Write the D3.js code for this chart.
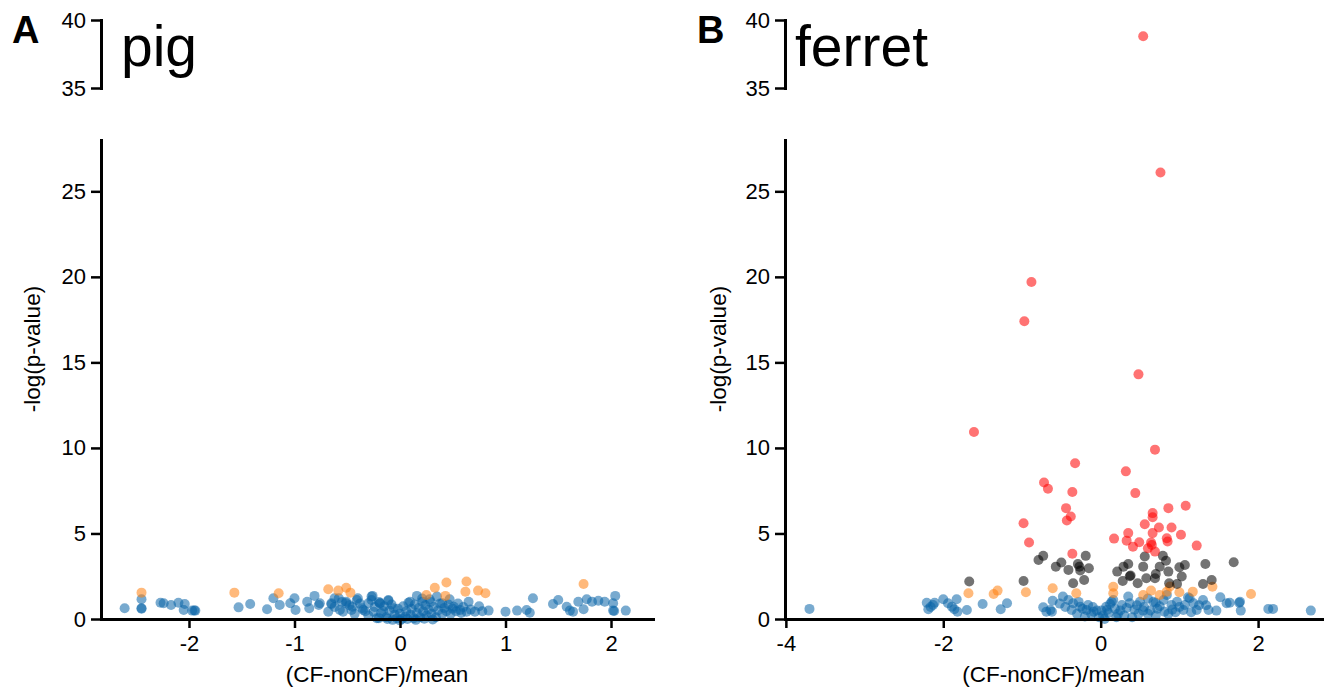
<!DOCTYPE html>
<html>
<head>
<meta charset="UTF-8">
<title>Volcano plots pig / ferret</title>
<script src="https://d3js.org/d3.v7.min.js"></script>
<style>
  body { margin: 0; background: #fff; }
  svg text { font-family: "Liberation Sans", Arial, sans-serif; }
</style>
</head>
<body>
<div id="chart"></div>
<script>
// values: [x = (CF-nonCF)/mean, y = -log(p-value)]
const pigBlue = [
  [-2.61,0.63],[-2.45,1.15],[-2.45,0.63],[-2.45,0.6],[-2.27,0.95],[-2.24,0.92],[-2.17,0.82],[-2.10,0.95],
  [-2.04,0.88],[-2.05,0.53],[-1.97,0.49],[-1.94,0.49],[-1.95,0.5],
  [-1.53,0.68],[-1.42,0.88],[-1.26,0.57],[-1.20,1.21],[-1.14,0.82],[-1.04,0.92],[-1.0,1.21],[-0.99,0.53],
  [-0.88,1.01],[-0.86,0.63],[-0.81,1.35],[-0.76,0.92],[-0.68,0.43],[-0.65,0.92],[-0.58,1.21],[-0.57,0.53],
  [-0.51,0.92],[-0.46,0.53],[-0.41,1.11],[-0.36,0.63],[-0.30,0.92],[-0.27,1.31],[-0.25,0.43],[-0.22,0.04],
  [-0.77,0.82],[-0.65,0.86],[-0.62,1.21],[-0.54,0.43],[-0.51,1.01],[-0.45,0.72],[-0.40,1.21],[-0.35,0.53],
  [-0.27,1.11],[-0.19,0.92],[-0.11,1.11],[-0.16,0.47],[-0.06,0.63],
  [-0.62,0.7],[-0.55,1.0],[-0.48,0.8],[-0.43,0.3],[-0.38,0.9],[-0.33,0.45],[-0.3,0.2],[-0.24,0.7],[-0.2,1.0],
  [-0.18,0.35],[-0.15,0.75],[-0.13,0.1],[-0.1,0.5],[-0.08,0.85],[-0.05,0.25],[-0.03,0.05],[-0.02,0.6],
  [0.0,0.3],[0.02,0.0],[0.03,0.75],[0.05,0.15],[0.06,0.45],[0.08,0.95],[0.1,0.25],[0.11,0.6],[0.13,0.05],
  [0.14,0.85],[0.16,0.35],[0.18,0.65],[0.19,0.1],[0.21,1.2],[0.22,0.45],[0.24,0.8],[0.25,0.2],[0.27,0.55],
  [0.29,1.0],[0.3,0.3],[0.32,0.7],[0.34,0.1],[0.36,0.5],[0.38,0.9],[0.4,0.3],[0.42,0.65],[0.44,0.45],
  [0.46,0.85],[0.48,0.3],[0.5,0.6],[0.53,0.45],[0.55,0.9],[0.58,0.35],[0.6,0.7],[0.67,0.55],[0.75,0.75],[0.78,0.45],
  [-0.26,1.35],[-0.19,0.92],[-0.11,1.07],[0.095,1.01],[0.16,1.35],[0.21,1.01],[0.28,1.15],[0.35,1.31],
  [0.40,0.92],[0.47,1.15],[0.51,0.72],[0.57,0.53],[0.65,1.01],[0.63,0.43],[0.71,0.43],[0.84,0.49],
  [1.0,0.43],[1.11,0.49],[1.20,0.53],[1.26,1.21],[1.23,0.37],[1.45,0.88],[1.50,1.11],[1.58,0.72],
  [1.61,0.49],[1.64,0.43],[1.69,1.01],[1.74,0.57],[1.77,1.15],[1.82,1.01],[1.88,1.07],[1.94,1.01],
  [2.04,1.35],[2.02,0.92],[2.02,0.49],[2.03,0.47],[2.14,0.49],
  [-0.12,0.0],[-0.07,-0.05],[0.0,-0.08],[0.07,0.0],[0.15,-0.05],[0.23,0.02],[0.31,-0.03],[-0.2,0.05]
];
const pigOrange = [
  [-2.45,1.54],[-1.57,1.54],[-1.15,1.5],[-0.68,1.74],[-0.585,1.66],[-0.51,1.83],[-0.47,1.54],
  [0.25,1.4],[0.33,1.83],[0.44,2.13],[0.43,1.35],[0.63,2.19],[0.62,1.6],[0.74,1.66],[0.81,1.5],[1.74,2.05]
];
const ferretBlue = [
  [-3.70,0.59],[-2.21,0.95],[-2.19,0.57],[-2.13,0.82],[-2.11,0.95],[-2.16,0.7],[-2.0,1.15],[-1.94,0.92],
  [-1.89,0.72],[-1.83,1.15],[-1.86,0.57],[-1.82,0.43],[-1.70,0.53],[-1.50,0.88],[-1.27,0.57],[-1.19,0.92],
  [-0.73,0.68],[-0.69,0.43],[-0.62,0.43],[-0.61,1.07],[-0.64,0.53],[-0.48,1.31],[-0.41,1.11],[-0.35,0.92],
  [-0.37,0.53],[-0.26,0.72],[-0.18,0.53],[-0.09,0.43],[0.08,0.53],[0.12,0.88],[0.16,1.11],[-0.23,0.6],
  [-0.16,0.82],[-0.12,0.3],[-0.05,0.5],[0.01,0.49],[0.03,0.2],[0.07,0.72],[0.14,1.01],[0.18,0.6],[0.27,0.82],
  [0.22,0.3],[0.35,1.31],[0.37,0.92],[0.43,0.55],[0.50,1.01],[0.54,0.49],[0.60,0.3],[0.67,1.01],[0.75,0.75],
  [0.80,1.11],[0.84,1.40],[0.81,0.43],[0.90,0.82],[0.91,0.55],[0.97,1.01],[1.05,0.53],[1.07,0.82],[1.11,1.27],
  [1.13,1.21],[1.18,0.92],[1.22,0.53],[1.30,1.11],[1.34,0.8],[1.37,0.53],[1.47,0.49],[1.52,1.27],[1.60,0.92],
  [1.64,0.95],[1.76,0.95],[1.77,1.01],[1.78,0.49],[2.13,0.59],[2.19,0.59],[2.67,0.49],
  [-0.3,0.3],[-0.2,0.15],[-0.1,0.7],[-0.02,0.1],[0.05,0.0],[0.1,0.35],[0.2,0.1],[0.25,0.5],[0.3,0.2],
  [0.33,0.65],[0.4,0.1],[0.46,0.8],[0.48,0.3],[0.55,0.7],[0.63,0.5],[0.7,0.2],[0.72,0.6],[0.86,0.3],
  [0.95,0.4],[1.0,0.7],[1.15,0.4],[1.25,0.8],[-0.45,0.7],[-0.52,0.9],[-0.28,1.0],[0.6,1.2],[0.7,0.95]
];
const ferretOrange = [
  [-1.68,1.50],[-1.36,1.46],[-1.31,1.66],[-0.95,1.56],[-0.61,1.80],[-0.31,1.50],[0.16,1.89],[0.16,1.50],
  [0.54,1.40],[0.64,1.66],[0.75,1.40],[0.84,1.60],[0.88,1.90],[1.0,1.56],[1.17,1.60],[1.42,1.89],[1.91,1.46]
];
const ferretBlack = [
  [-1.67,2.19],[-0.98,2.22],[-0.79,3.45],[-0.73,3.69],[-0.57,3.06],[-0.50,3.30],[-0.41,2.87],[-0.29,3.22],
  [-0.27,3.06],[-0.26,2.83],[-0.19,3.69],[-0.15,2.97],[-0.21,2.28],[-0.35,2.09],[0.21,2.77],[0.29,3.06],
  [0.35,3.22],[0.38,2.54],[0.37,2.50],[0.28,2.22],[0.47,2.09],[0.54,3.06],[0.56,3.65],[0.58,2.38],[0.69,2.38],
  [0.70,2.63],[0.75,3.06],[0.79,3.69],[0.83,3.41],[0.86,2.77],[0.87,2.09],[0.97,2.05],[1.00,3.03],[1.07,3.16],
  [1.03,2.48],[1.33,3.22],[1.30,2.05],[1.41,2.28],[1.69,3.32]
];
const ferretRed = [
  [0.54,38.8],[0.76,26.1],[-0.88,19.7],[-0.97,17.4],[0.48,14.3],[-1.61,10.93],[0.69,9.9],[-0.325,9.1],
  [0.32,8.63],[-0.72,7.98],[-0.67,7.61],[-0.36,7.42],[0.44,7.36],[0.86,6.48],[1.08,6.62],[-0.44,6.48],
  [-0.38,5.99],[-0.43,5.76],[0.66,6.19],[0.66,5.95],[0.56,5.54],[0.74,5.35],[0.90,5.35],[-0.98,5.6],
  [0.35,5.02],[0.66,5.02],[1.02,4.92],[-0.91,4.47],[0.17,4.70],[0.33,4.58],[0.41,4.23],[0.49,4.49],
  [0.64,4.47],[0.60,4.14],[0.69,3.94],[0.84,4.72],[0.85,4.53],[1.22,4.29],[-0.36,3.81],[0.65,4.33]
];

const yTicks = [0, 5, 10, 15, 20, 25];
const yTopTicks = [35, 40];
const pigXTicks = [-2, -1, 0, 1, 2];
const ferretXTicks = [-4, -2, 0, 2];

const W = 1326, H = 688;
const svg = d3.select("#chart").append("svg")
  .attr("width", W).attr("height", H);

// plain hyphen minus like the original figure
const fmt = d => String(d);

// shared y scales (lower part and the broken top part)
const y = d3.scaleLinear().domain([0, 28]).range([619, 140]);
const yTop = d3.scaleLinear().domain([35, 40]).range([88, 20]);

const panels = [
  { letter: "A", name: "pig", left: 101, right: 653, xDomain: [-2.834, 2.398], xTicks: pigXTicks,
    letterX: 12, nameX: 121, ylabX: 40,
    series: [[pigBlue, "#0a64a8"], [pigOrange, "#ff7f0e"]] },
  { letter: "B", name: "ferret", left: 785, right: 1322, xDomain: [-4.011, 2.812], xTicks: ferretXTicks,
    letterX: 697, nameX: 795, ylabX: 726,
    series: [[ferretBlue, "#0a64a8"], [ferretOrange, "#ff7f0e"], [ferretBlack, "#000000"], [ferretRed, "#ff0000"]] }
];

panels.forEach(p => {
  const x = d3.scaleLinear().domain(p.xDomain).range([p.left, p.right]);
  const g = svg.append("g");

  // points first, axes on top
  p.series.forEach(([data, color]) => {
    g.append("g").selectAll("circle")
      .data(data)
      .join("circle")
      .attr("cx", d => x(d[0]))
      .attr("cy", d => d[1] > 30 ? yTop(d[1]) : y(d[1]))
      .attr("r", 5)
      .attr("fill", color)
      .attr("fill-opacity", 0.55);
  });

  // x axis
  const xa = g.append("g")
    .attr("transform", "translate(0,619)")
    .call(d3.axisBottom(x).tickValues(p.xTicks).tickSize(9).tickSizeOuter(0).tickPadding(7).tickFormat(fmt));

  // y axis (lower)
  const ya = g.append("g")
    .attr("transform", `translate(${p.left},0)`)
    .call(d3.axisLeft(y).tickValues(yTicks).tickSize(10).tickSizeOuter(0).tickPadding(5).tickFormat(fmt));

  // y axis (top bracket)
  const yt = g.append("g")
    .attr("transform", `translate(${p.left},0)`)
    .call(d3.axisLeft(yTop).tickValues(yTopTicks).tickSize(10).tickSizeOuter(0).tickPadding(5).tickFormat(fmt));

  [xa, ya, yt].forEach(a => {
    a.select(".domain").attr("stroke", "#000").attr("stroke-width", 3).attr("stroke-linecap", "square");
    a.selectAll(".tick line").attr("stroke", "#000").attr("stroke-width", 2.5);
    a.selectAll(".tick text").attr("fill", "#000").style("font-size", "22px");
  });

  // axis titles
  g.append("text")
    .attr("x", (p.left + p.right) / 2)
    .attr("y", 682)
    .attr("text-anchor", "middle")
    .style("font-size", "22.5px")
    .text("(CF-nonCF)/mean");

  g.append("text")
    .attr("transform", `translate(${p.ylabX},349) rotate(-90)`)
    .attr("text-anchor", "middle")
    .style("font-size", "22.5px")
    .text("-log(p-value)");

  // panel letter and species name
  g.append("text")
    .attr("x", p.letterX).attr("y", 43)
    .style("font-size", "38px").style("font-weight", "bold")
    .text(p.letter);

  g.append("text")
    .attr("x", p.nameX).attr("y", 66)
    .style("font-size", "57px")
    .text(p.name);
});
</script>
</body>
</html>
